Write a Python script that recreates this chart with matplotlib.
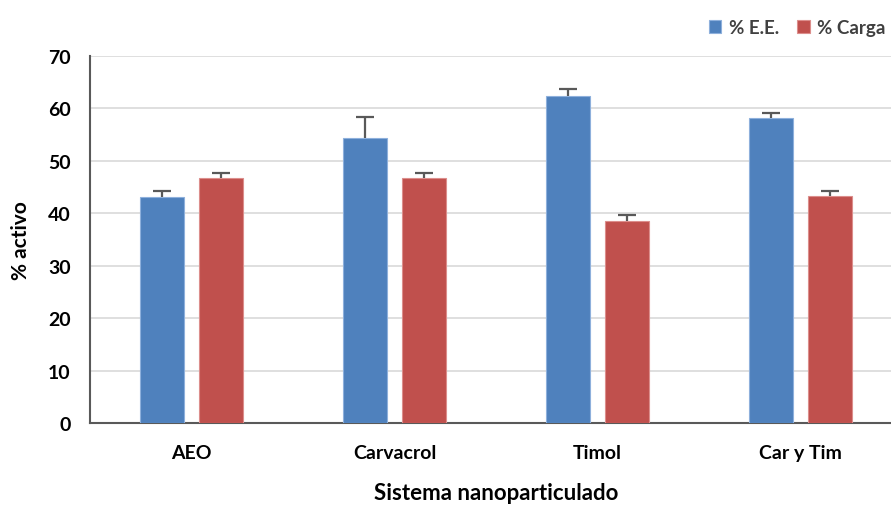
import matplotlib
matplotlib.use('Agg')
import matplotlib.pyplot as plt
import numpy as np

# data
categories = ["AEO", "Carvacrol", "Timol", "Car y Tim"]
ee_vals = [43.1, 54.4, 62.4, 58.2]
ee_err = [1.1, 4.0, 1.3, 1.0]
carga_vals = [46.7, 46.7, 38.5, 43.3]
carga_err = [1.0, 1.0, 1.1, 1.0]
yticks = [0, 10, 20, 30, 40, 50, 60, 70]

plt.rcParams['font.family'] = ['Lato', 'DejaVu Sans']

fig = plt.figure(figsize=(8.91, 5.06), dpi=100)
# axes spill a little past the right edge, like the cropped original
ax = fig.add_axes([90 / 891, 1 - 424 / 506, 812 / 891, 367 / 506])

x = np.arange(len(categories))
w = 0.217
off = 0.143
err_kw = dict(ecolor="#595959", elinewidth=1.6, capsize=6.5, capthick=1.6)
b1 = ax.bar(x - off, ee_vals, w, yerr=[np.zeros(4), ee_err], color="#4F81BD",
            edgecolor="#8EB0DC", linewidth=0.8, error_kw=err_kw, label="% E.E.", zorder=3)
b2 = ax.bar(x + off, carga_vals, w, yerr=[np.zeros(4), carga_err], color="#C0504D",
            edgecolor="#DC8E8C", linewidth=0.8, error_kw=err_kw, label="% Carga", zorder=3)

# only the upper cap is shown in the original, hide the one sitting on the bar top
for cont, vals in [(b1, ee_vals), (b2, carga_vals)]:
    for cap in cont.errorbar.lines[1]:
        if np.allclose(cap.get_ydata(), vals):
            cap.set_visible(False)

ax.set_xlim(-0.5, 3.5)
ax.set_ylim(0, 70)
ax.set_yticks(yticks)
ax.set_xticks(x)
ax.set_xticklabels(categories, fontsize=14, fontweight="bold")
ax.set_yticklabels([str(t) for t in yticks], fontsize=14, fontweight="bold")
ax.tick_params(axis="y", length=0, pad=14)
ax.tick_params(axis="x", length=0, pad=15)
ax.grid(axis="y", color="#D9D9D9", linewidth=1.2, zorder=0)
ax.set_axisbelow(True)

for s in ["top", "right"]:
    ax.spines[s].set_visible(False)
ax.spines["left"].set_color("#595959")
ax.spines["bottom"].set_color("#595959")
ax.spines["left"].set_linewidth(1.5)
ax.spines["bottom"].set_linewidth(1.5)

ax.set_ylabel("% activo", fontsize=15, fontweight="bold", labelpad=12)
ax.set_xlabel("Sistema nanoparticulado", fontsize=16, fontweight="bold", labelpad=15)

fig.legend(loc="upper left", bbox_to_anchor=(692 / 891, 1 - 3 / 506), ncol=2,
           frameon=False, prop=dict(size=13.5, weight="bold"), handlelength=0.65,
           handleheight=0.65, handletextpad=0.4, columnspacing=1.0, labelcolor="#404040")

fig.savefig("out.png", dpi=100)
